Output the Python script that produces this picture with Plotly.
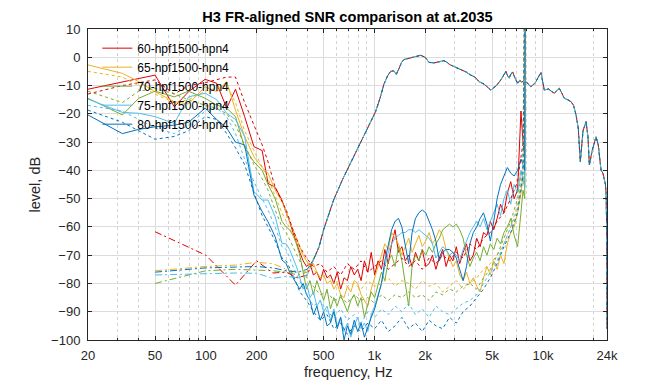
import plotly.graph_objects as go

NAMES = ["60-hpf1500-hpn4", "65-hpf1500-hpn4", "70-hpf1500-hpn4", "75-hpf1500-hpn4", "80-hpf1500-hpn4"]
COLORS = ["#E00000", "#EDB120", "#77AC30", "#4DBEEE", "#0072BD"]

X_TICKS = [20, 50, 100, 200, 500, 1000, 2000, 5000, 10000, 24000]
X_TICK_TEXT = ["20", "50", "100", "200", "500", "1k", "2k", "5k", "10k", "24k"]
X_MINOR = [30, 40, 60, 70, 80, 90, 300, 400, 600, 700, 800, 900,
           3000, 4000, 6000, 7000, 8000, 9000, 20000]

# low-frequency part of the noise curves (solid and dotted)
LOW_F = [20, 32, 40, 50, 65, 79, 99, 116, 133, 150, 170, 193, 216, 234, 258, 283]

SOLID_LOW_60 = [-11.3, -8.6, -7.5, -6.3, -17.5, -12.2, -7.8, -9.2, -18, -11.3, -21, -31.6, -33, -44.6, -46, -50.5]
SOLID_LOW_65 = [-2.7, -5.7, -8.6, -12.2, -15.7, -16.5, -10.4, -12.2, -8.6, -18.7, -28, -35.2, -39, -41, -47, -51]
SOLID_LOW_70 = [-14.5, -20.4, -14.5, -12, -14, -12, -14.5, -16.9, -18, -21, -32, -37, -40, -45, -50, -58]
SOLID_LOW_75 = [-14.8, -19.5, -19.8, -21, -23.4, -14, -12.7, -15, -19.8, -22, -28, -47.5, -50.5, -50.5, -56.4, -65.8]
SOLID_LOW_80 = [-20.4, -27, -25.5, -24.6, -24, -23, -18, -22, -25, -30, -31, -48.7, -54.6, -58.2, -63.5, -71.7]

DOT_LOW_60 = [-13, -10, -9, -8, -13, -10, -9, -8, -7, -7, -16, -24, -31, -37, -46, -51]
DOT_LOW_65 = [-5, -7, -10, -13, -16, -15, -12, -11, -10, -16, -26, -33, -39, -43, -49, -55]
DOT_LOW_70 = [-12, -16, -12, -11, -13, -15, -17, -18, -20, -24, -31, -38, -43, -47, -54, -60]
DOT_LOW_75 = [-17, -19, -22, -25, -27, -24, -19, -18, -21, -27, -36, -44, -50, -54, -60, -67]
DOT_LOW_80 = [-18.7, -23, -26, -29, -28, -26, -21, -22, -27, -32, -38, -48, -56, -60, -65, -71]

# noisy part of the solid curves
NOISE_F = [300, 314, 329, 345, 361, 378, 396, 415, 435, 456,
           478, 500, 524, 549, 575, 602, 631, 661, 692, 725,
           760, 796, 834, 873, 915, 958, 1004, 1052, 1102, 1154,
           1209, 1266, 1327, 1390, 1456, 1525, 1598, 1674, 1753, 1837,
           1924, 2016, 2112, 2212, 2318, 2428, 2543, 2664, 2791, 2924,
           3063, 3209, 3361, 3521, 3689, 3864, 4048, 4241, 4443, 4654,
           4876, 5108, 5351, 5605, 5872, 6152, 6445, 6751, 7073, 7409,
           7620, 7800]

SOLID_NOISE_60 = [-55, -58, -62, -66, -69, -72, -74, -73, -77, -76,
                  -79, -75, -78, -77, -80, -76, -82, -78, -79, -74,
                  -77, -75, -79, -72, -76, -69, -77, -72, -75, -68,
                  -73, -66, -61, -69, -67, -72, -70, -74, -69, -72,
                  -68, -74, -73, -70, -75, -71, -68, -74, -70, -72,
                  -67, -73, -69, -66, -72, -70, -64, -67, -62, -63,
                  -58, -61, -57, -52, -55, -48, -44, -50, -47, -19,
                  -30, -35]
SOLID_NOISE_65 = [-55, -58, -61, -64, -67, -70, -72, -74, -73, -76,
                  -78, -77, -80, -79, -82, -80, -84, -85, -81, -83,
                  -79, -80, -84, -86, -88, -82, -78, -74, -70, -66,
                  -68, -62, -64, -66, -70, -67, -64, -69, -66, -63,
                  -67, -65, -62, -66, -64, -61, -63, -68, -71, -74,
                  -72, -77, -79, -76, -80, -78, -81, -83, -78, -74,
                  -77, -72, -75, -70, -73, -66, -62, -60, -55, -48,
                  -42, -46]
SOLID_NOISE_70 = [-60, -61, -63, -66, -70, -76, -82, -79, -84, -79,
                  -83, -86, -82, -89, -85, -88, -84, -87, -90, -86,
                  -84, -88, -85, -92, -87, -83, -85, -80, -76, -79,
                  -72, -70, -74, -67, -72, -80, -88, -74, -70, -72,
                  -68, -70, -67, -69, -66, -64, -61, -60, -59, -60,
                  -59, -61, -64, -70, -74, -71, -69, -72, -67, -70,
                  -66, -68, -64, -66, -62, -60, -57, -63, -67, -55,
                  -47, -50]
SOLID_NOISE_75 = [-66, -68, -71, -74, -78, -82, -80, -85, -83, -88,
                  -86, -90, -88, -93, -89, -95, -92, -97, -94, -99,
                  -95, -92, -96, -94, -97, -91, -88, -84, -80, -74,
                  -69, -66, -64, -63, -62, -62, -61, -61, -62, -61,
                  -62, -63, -64, -66, -71, -69, -67, -68, -70, -69,
                  -70, -72, -68, -65, -62, -60, -58, -60, -57, -61,
                  -58, -55, -52, -56, -50, -47, -52, -45, -48, -40,
                  -44, -46]
SOLID_NOISE_80 = [-73, -76, -78, -80, -82, -80, -84, -86, -91, -88,
                  -93, -90, -95, -94, -90, -96, -92, -100, -95, -98,
                  -93, -97, -94, -99, -95, -92, -89, -84, -80, -72,
                  -66, -61, -58, -57, -60, -66, -73, -62, -57, -55,
                  -54, -55, -58, -61, -65, -72, -69, -68, -68, -69,
                  -71, -75, -79, -74, -66, -62, -60, -57, -55, -59,
                  -65, -58, -50, -45, -42, -39, -41, -42, -40, -36,
                  -38, -40]

# noisy part of the dotted curves
DOT_F = [300, 329, 361, 396, 435, 478, 524, 575, 631, 692,
         760, 834, 915, 1004, 1102, 1209, 1327, 1456, 1598, 1753,
         1924, 2112, 2318, 2543, 2791, 3063, 3361, 3689, 4048, 4443,
         4876, 5351, 5872, 6445, 7073, 7620]

DOT_NOISE_60 = [-54, -61, -67, -71, -74, -73, -76, -74, -77, -73,
                -75, -72, -76, -74, -72, -75, -73, -71, -74, -72,
                -75, -71, -73, -70, -72, -69, -71, -66, -68, -64,
                -62, -58, -55, -50, -44, -30]
DOT_NOISE_65 = [-58, -63, -68, -72, -75, -78, -77, -80, -79, -81,
                -80, -82, -79, -81, -80, -78, -81, -79, -80, -82,
                -79, -81, -80, -83, -81, -79, -82, -80, -78, -75,
                -73, -70, -66, -60, -52, -40]
DOT_NOISE_70 = [-62, -67, -72, -78, -81, -84, -83, -86, -85, -87,
                -84, -86, -85, -87, -84, -86, -84, -85, -83, -85,
                -84, -86, -83, -84, -82, -83, -81, -80, -82, -78,
                -75, -70, -64, -58, -50, -38]
DOT_NOISE_75 = [-68, -74, -79, -84, -88, -86, -90, -92, -89, -93,
                -91, -94, -90, -92, -89, -91, -88, -90, -87, -91,
                -89, -92, -88, -90, -91, -89, -87, -86, -84, -80,
                -76, -72, -66, -60, -54, -40]
DOT_NOISE_80 = [-72, -77, -83, -86, -90, -93, -91, -96, -94, -98,
                -95, -97, -94, -96, -93, -97, -95, -92, -96, -94,
                -97, -93, -95, -96, -92, -94, -90, -88, -85, -82,
                -78, -73, -67, -62, -55, -42]

# the spike near 7.85 kHz that leaves the top of the axes
SPIKE_F = 7850
SPIKE_DB = 40

# frequency response (dash-dot)
FR_LOW_F = [50, 100, 150, 200, 250, 300, 350, 400]
FR_LOW_60 = [-61.7, -70, -80.6, -72, -76.3, -76, -78, -77]
FR_LOW_65 = [-75.5, -74, -73.5, -72.5, -73, -75, -76, -76]
FR_LOW_70 = [-80, -75.5, -75, -75.2, -75.5, -76, -77, -76]
FR_LOW_75 = [-77, -76.4, -76.3, -76.4, -78.2, -77.5, -78, -77]
FR_LOW_80 = [-76, -74.5, -74.2, -74, -74.5, -75.5, -76, -75]

FR_HIGH_F = [440, 470, 500, 540, 573, 650, 722, 780, 848, 930,
             1016, 1080, 1140, 1200, 1249, 1300, 1350, 1400, 1450, 1500,
             1570, 1650, 1750, 1884, 2000, 2109, 2250, 2400, 2476, 2590,
             2700, 2800, 2970, 3150, 3300, 3500, 3730, 3950, 4180, 4500,
             4910, 5300, 5630, 5850, 6030, 6170, 6310, 6450, 6610, 6850,
             7080, 7300, 7500, 7700, 7930, 8200, 8490, 8750, 8970, 9400,
             9740, 10190, 10800, 11200, 11680, 12100, 12500, 12900, 13390, 14000,
             14680, 15200, 15720, 16200, 16670, 17300, 18020, 18500, 18860, 19600,
             20200, 20660, 21300, 22130, 22700, 23160, 23500, 23700, 23900, 24000]
FR_HIGH_DB = [-71, -67, -61, -55, -50.5, -43, -37.5, -33.5, -29.3, -24.5,
              -19.3, -14.5, -9.5, -6.5, -5, -4.8, -6, -4, -1.8, -0.8,
              -0.5, 0, 0.4, 0.7, 0, -1.8, -2, -1.6, -1.5, -1.2,
              -1.8, -2.6, -3.3, -4, -4.4, -5.2, -6.3, -7, -8.6, -9.6,
              -11.6, -10, -8, -6.5, -5, -6.5, -7.4, -6, -5.2, -7.5,
              -9.2, -8.2, -8.8, -8.2, -8.6, -9.5, -10.4, -9.7, -9.2, -7,
              -5.4, -11.6, -11.2, -12, -12.7, -11.8, -11, -12.5, -14.5, -15,
              -15.7, -17, -20.4, -25, -36.9, -26, -22.8, -28, -38.1, -33,
              -30, -28.1, -31, -39.9, -41, -42.8, -45, -48, -61, -96]

solid_low = [SOLID_LOW_60, SOLID_LOW_65, SOLID_LOW_70, SOLID_LOW_75, SOLID_LOW_80]
solid_noise = [SOLID_NOISE_60, SOLID_NOISE_65, SOLID_NOISE_70, SOLID_NOISE_75, SOLID_NOISE_80]
dot_low = [DOT_LOW_60, DOT_LOW_65, DOT_LOW_70, DOT_LOW_75, DOT_LOW_80]
dot_noise = [DOT_NOISE_60, DOT_NOISE_65, DOT_NOISE_70, DOT_NOISE_75, DOT_NOISE_80]
fr_low = [FR_LOW_60, FR_LOW_65, FR_LOW_70, FR_LOW_75, FR_LOW_80]

# drawing order of the frequency-response curves (blue ends on top)
FR_ORDER = [2, 1, 0, 3, 4]

fig = go.Figure()

for k in range(5):
    fig.add_trace(go.Scatter(
        x=LOW_F + NOISE_F + [SPIKE_F],
        y=solid_low[k] + solid_noise[k] + [SPIKE_DB],
        mode="lines", name=NAMES[k],
        line=dict(color=COLORS[k], width=1),
        showlegend=True))

for k in range(5):
    fig.add_trace(go.Scatter(
        x=LOW_F + DOT_F + [SPIKE_F],
        y=dot_low[k] + dot_noise[k] + [SPIKE_DB],
        mode="lines", name=NAMES[k] + " (dotted)",
        line=dict(color=COLORS[k], width=1, dash="dot"),
        showlegend=False))

for k in FR_ORDER:
    fig.add_trace(go.Scatter(
        x=FR_LOW_F + FR_HIGH_F,
        y=fr_low[k] + FR_HIGH_DB,
        mode="lines", name=NAMES[k] + " (FR)",
        line=dict(color=COLORS[k], width=1, dash="7px,3px,2px,3px"),
        showlegend=False))

FONT = "Liberation Sans, Arial, Helvetica, sans-serif"
AX = "#262626"

# the page body adds an 8 px offset, so the layout is shifted up/left by 8 px
fig.update_layout(
    width=672, height=384,
    margin=dict(l=80, r=73, t=21, b=52),
    paper_bgcolor="white", plot_bgcolor="white",
    font=dict(family=FONT, size=13, color=AX),
    title=dict(text="<b>H3 FR-aligned SNR comparison at at.2035</b>",
               x=0.5, xref="paper", xanchor="center",
               y=1 - 8.5 / 384, yref="container", yanchor="middle",
               font=dict(size=14.6, color="#000000")),
    showlegend=True,
    legend=dict(x=0.018, y=0.985, xanchor="left", yanchor="top",
                bgcolor="rgba(0,0,0,0)", borderwidth=0,
                font=dict(size=12, color="#000000")),
    xaxis=dict(
        type="log", automargin=False,
        range=[1.30103, 4.380211],
        tickmode="array", tickvals=X_TICKS, ticktext=X_TICK_TEXT,
        ticks="inside", ticklen=4, tickcolor=AX,
        showline=True, linecolor=AX, linewidth=1, mirror="allticks",
        showgrid=True, gridcolor="#dcdcdc", gridwidth=1,
        zeroline=False,
        ticklabelstandoff=3,
        minor=dict(tickmode="array", tickvals=X_MINOR, ticks="inside",
                   ticklen=2, tickcolor=AX, showgrid=True,
                   gridcolor="#d2d2d2", griddash="dot", gridwidth=1),
    ),
    yaxis=dict(
        range=[-100, 10], automargin=False,
        tickmode="array", tickvals=list(range(-100, 11, 10)),
        ticks="inside", ticklen=4, tickcolor=AX,
        showline=True, linecolor=AX, linewidth=1, mirror="allticks",
        showgrid=True, gridcolor="#dcdcdc", gridwidth=1,
        zeroline=False,
        ticklabelstandoff=4,
    ),
    annotations=[
        dict(text="frequency, Hz", xref="paper", yref="paper", x=0.5, y=0,
             xanchor="center", yanchor="middle", yshift=-32, showarrow=False,
             font=dict(size=14.5, color=AX)),
        dict(text="level, dB", xref="paper", yref="paper", x=0, y=0.5,
             xanchor="center", yanchor="middle", xshift=-54, textangle=-90,
             showarrow=False, font=dict(size=14.5, color=AX)),
    ],
)

fig.write_html("out.html")
